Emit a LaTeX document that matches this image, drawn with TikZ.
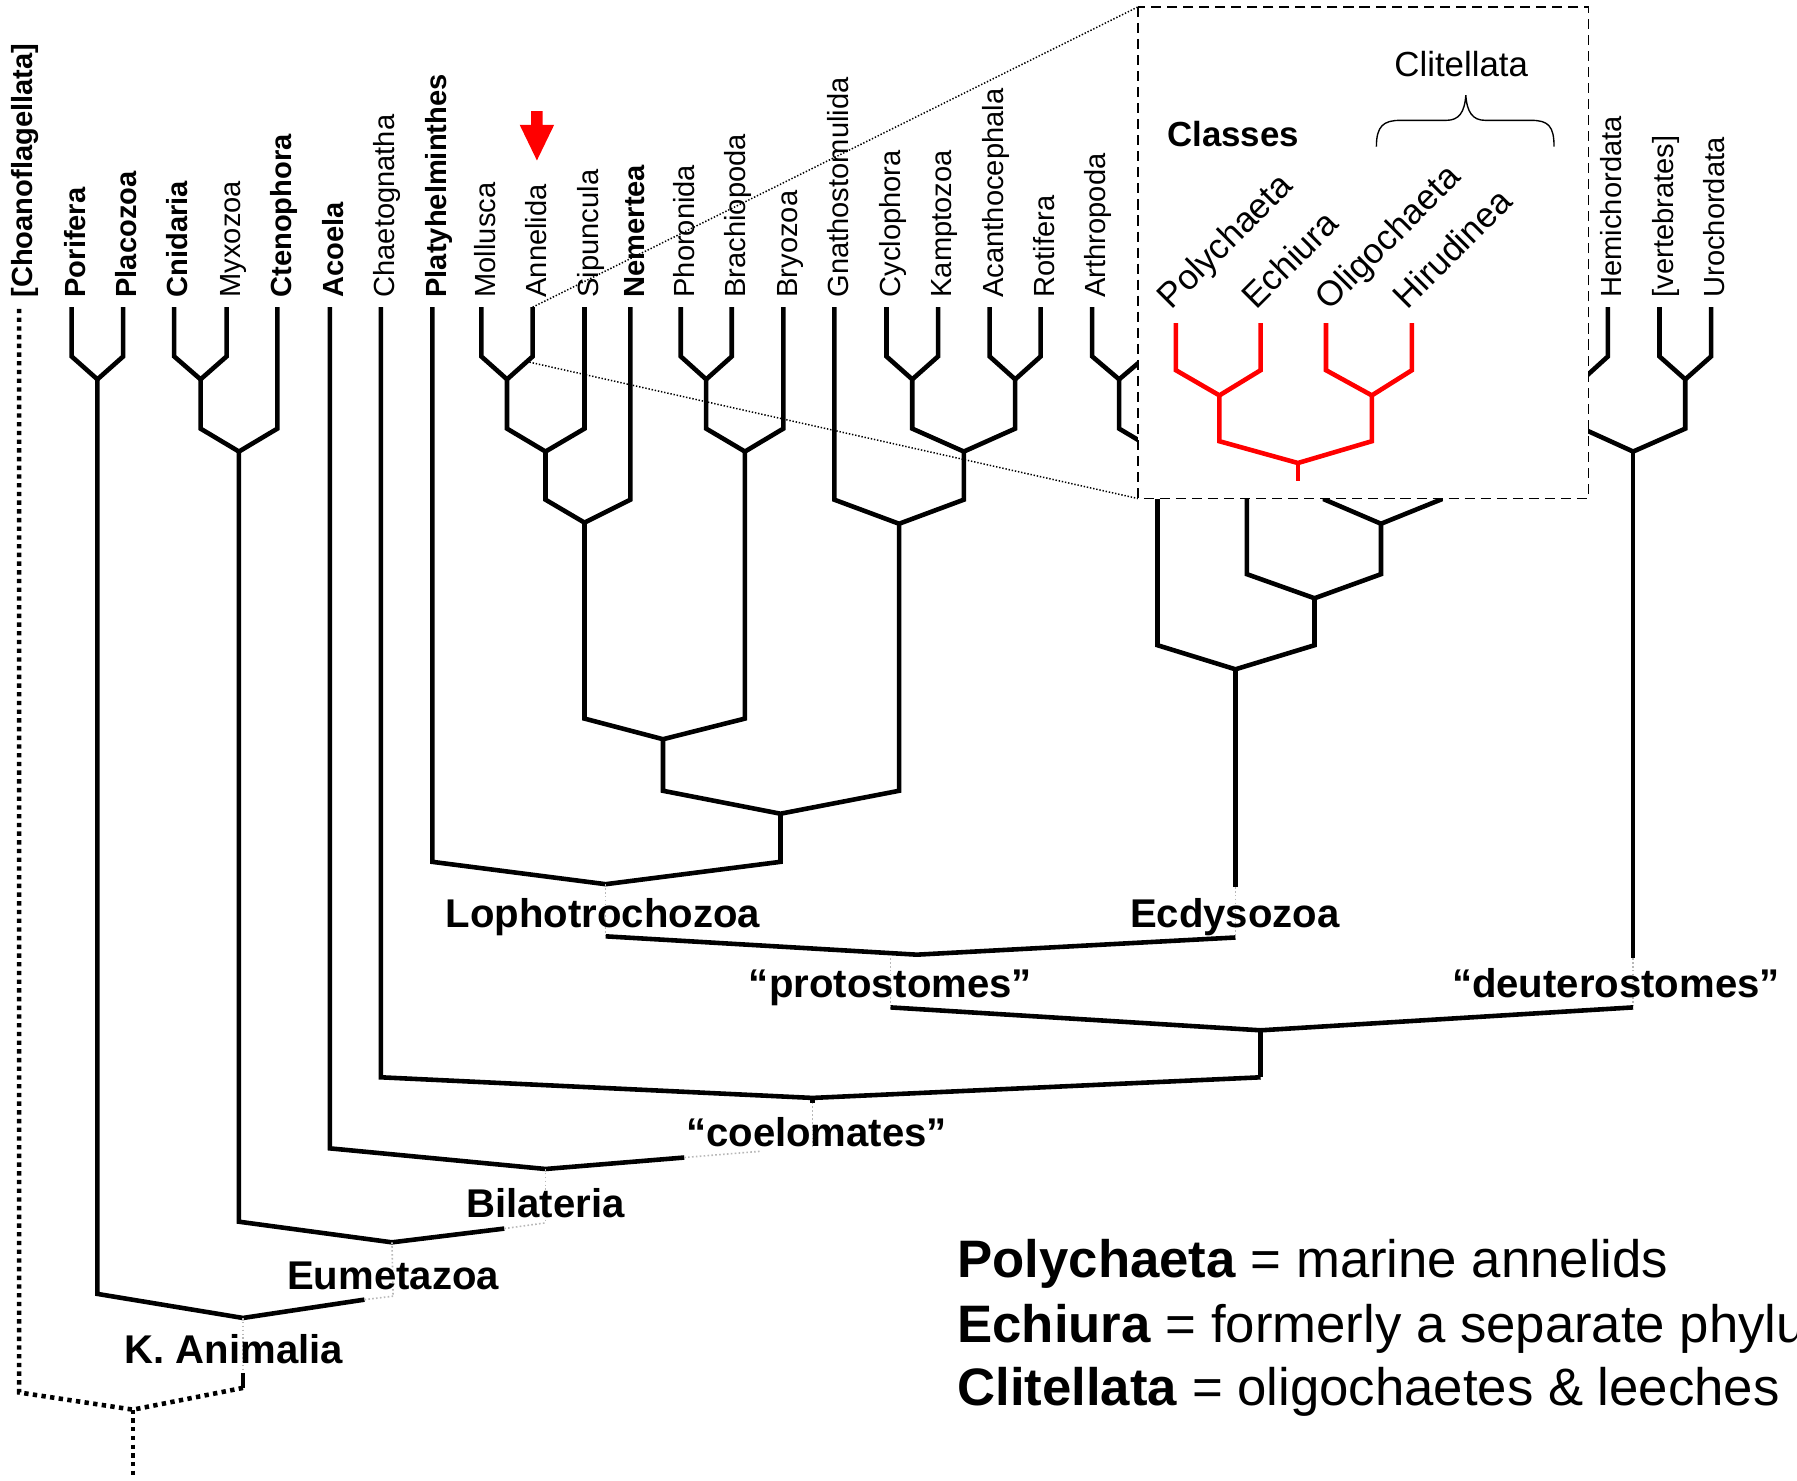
\documentclass[tikz,border=0pt]{standalone}
\usepackage{fontspec}
\setmainfont{Liberation Sans}
\begin{document}
\begin{tikzpicture}[x=0.5pt,y=-0.5pt,
  br/.style={line width=2pt},
  redbr/.style={line width=2pt,draw=red},
  faint/.style={line width=0.7pt,draw=black!28,densely dotted},
  rootdot/.style={line width=2pt,dash pattern=on 1.9pt off 1.9pt},
  guide/.style={line width=0.65pt,dash pattern=on 0.6pt off 0.8pt},
  inset/.style={fill=white,line width=0.65pt,dash pattern=on 4.4pt off 2.6pt},
  tax/.style={rotate=90,anchor=base west,inner sep=0pt,font=\fontsize{12.7pt}{15pt}\selectfont},
  btax/.style={tax,font=\fontsize{12.7pt}{15pt}\selectfont\bfseries},
  clade/.style={anchor=base,inner sep=0pt,font=\fontsize{17.5pt}{20pt}\selectfont\bfseries},
  cls/.style={rotate=45,anchor=base west,inner sep=0pt,font=\fontsize{15.3pt}{18pt}\selectfont},
  note/.style={anchor=base west,inner sep=0pt,font=\fontsize{23pt}{27pt}\selectfont}]

\useasboundingbox (0,0) rectangle (1568,1292);

% ---------- taxon labels ----------
\node[btax] (l-cho) at (28.7,260) {[Choanoflagellata]};
\node[btax] (l-por) at (74.5,260) {Porifera};
\node[btax] (l-pla) at (119.5,260) {Placozoa};
\node[btax] (l-cni) at (164,260) {Cnidaria};
\node[tax]  (l-myx) at (209.7,260) {Myxozoa};
\node[btax] (l-cte) at (254,260) {Ctenophora};
\node[btax] (l-aco) at (299.8,260) {Acoela};
\node[tax]  (l-cha) at (344.3,260) {Chaetognatha};
\node[btax] (l-pth) at (389.2,260) {Platyhelminthes};
\node[tax]  (l-mol) at (432,260) {Mollusca};
\node[tax]  (l-ann) at (476.8,260) {Annelida};
\node[tax]  (l-sip) at (522,260) {Sipuncula};
\node[btax] (l-nem) at (562,260) {Nemertea};
\node[tax]  (l-pho) at (606,260) {Phoronida};
\node[tax]  (l-bra) at (650.5,260) {Brachiopoda};
\node[tax]  (l-bry) at (695.5,260) {Bryozoa};
\node[tax]  (l-gna) at (740,260) {Gnathostomulida};
\node[tax]  (l-cyc) at (785.5,260) {Cyclophora};
\node[tax]  (l-kam) at (830.5,260) {Kamptozoa};
\node[tax]  (l-aca) at (875.5,260) {Acanthocephala};
\node[tax]  (l-rot) at (920,260) {Rotifera};
\node[tax]  (l-art) at (965,260) {Arthropoda};
\node[tax]  (l-hem) at (1415,260) {Hemichordata};
\node[tax]  (l-ver) at (1460,260) {[vertebrates]};
\node[tax]  (l-uro) at (1505,260) {Urochordata};

% ---------- coordinates ----------
\foreach \n/\x in {cho/16.7,por/62.5,pla/107.5,cni/152,myx/197.7,cte/242,aco/287.8,cha/332.3,pth/377.2,mol/420,ann/464.8,sip/510,nem/550,pho/594,bra/638.5,bry/683.5,gna/728,cyc/773.5,kam/818.5,aca/863.5,rot/908,art/953,hx/1000,hy/1043,he/1359,hem/1403,ver/1448,uro/1493}
  \coordinate (t-\n) at (\x,268);
\coordinate (y1) at (0,311);
\coordinate (y2) at (0,374);
\coordinate (y3) at (0,436);
\coordinate (y4) at (0,627);
\coordinate (y4b) at (0,501);
\coordinate (y5) at (0,690);
\coordinate (y5b) at (0,563);
\coordinate (y6) at (0,752);

\coordinate (j-pp) at (85,331);
\coordinate (j-cm) at (175,331);
\coordinate (j-ma) at (442.4,331);
\coordinate (j-pb) at (616.2,331);
\coordinate (j-ck) at (796,331);
\coordinate (j-ar) at (885.8,331);
\coordinate (j-ax) at (976.5,331);
\coordinate (j-eh) at (1381,331);
\coordinate (j-vu) at (1470.5,331);
\coordinate (j-cte) at (208.5,394);
\coordinate (j-sip) at (476,394);
\coordinate (j-bry) at (650,394);
\coordinate (j-rot) at (841,394);
\coordinate (j-axy) at (1010,394);
\coordinate (j-deu) at (1425,394);
\coordinate (j-nem) at (510,456);
\coordinate (j-gna) at (784.5,457);
\coordinate (j-h3) at (1205,457);
\coordinate (j-lo1) at (578.5,645);
\coordinate (j-h4) at (1147,522);
\coordinate (j-lo2) at (681,710);
\coordinate (j-ecd) at (1078,584);
\coordinate (j-lop) at (528.5,771.5);
\coordinate (j-pro) at (800,833);
\coordinate (j-pd) at (1100,899);
\coordinate (j-coe) at (709,958);
\coordinate (j-bil) at (476,1020);
\coordinate (j-eum) at (342,1084);
\coordinate (j-ani) at (212,1150);
\coordinate (j-root) at (116,1230);
\coordinate (t-h0) at (1088,420);
\coordinate (t-h1) at (1156,420);
\coordinate (t-h2) at (1257,420);

% ---------- tree ----------
\foreach \a/\b/\j in {por/pla/pp,cni/myx/cm,mol/ann/ma,pho/bra/pb,cyc/kam/ck,aca/rot/ar,art/hx/ax,he/hem/eh,ver/uro/vu}
  \draw[br] (t-\a) -- (t-\a |- y1) -- (j-\j) -- (t-\b |- y1) -- (t-\b);

\draw[br] (j-cm) -- (j-cm |- y2) -- (j-cte) -- (t-cte |- y2) -- (t-cte);
\draw[br] (j-ma) -- (j-ma |- y2) -- (j-sip) -- (t-sip |- y2) -- (t-sip);
\draw[br] (j-pb) -- (j-pb |- y2) -- (j-bry) -- (t-bry |- y2) -- (t-bry);
\draw[br] (j-ck) -- (j-ck |- y2) -- (j-rot) -- (j-ar |- y2) -- (j-ar);
\draw[br] (j-ax) -- (j-ax |- y2) -- (j-axy) -- (t-hy |- y2) -- (t-hy);
\draw[br] (j-eh) -- (j-eh |- y2) -- (j-deu) -- (j-vu |- y2) -- (j-vu);

\draw[br] (j-sip) -- (j-sip |- y3) -- (j-nem) -- (t-nem |- y3) -- (t-nem);
\draw[br] (t-gna) -- (t-gna |- y3) -- (j-gna) -- (j-rot |- y3) -- (j-rot);
\draw[br] (t-h1) -- (t-h1 |- y3) -- (j-h3) -- (t-h2 |- y3) -- (t-h2);

\draw[br] (j-nem) -- (j-nem |- y4) -- (j-lo1) -- (j-bry |- y4) -- (j-bry);
\draw[br] (t-h0) -- (t-h0 |- y4b) -- (j-h4) -- (j-h3 |- y4b) -- (j-h3);

\draw[br] (j-lo1) -- (j-lo1 |- y5) -- (j-lo2) -- (j-gna |- y5) -- (j-gna);
\draw[br] (j-axy) -- (j-axy |- y5b) -- (j-ecd) -- (j-h4 |- y5b) -- (j-h4);

\draw[br] (t-pth) -- (t-pth |- y6) -- (j-lop) -- (j-lo2 |- y6) -- (j-lo2);

\coordinate (lop-b) at (528.5,817);
\coordinate (ecd-g) at (1078,774);
\coordinate (ecd-b) at (1078,818);
\draw[faint] (j-lop) -- (lop-b);
\draw[br] (lop-b) -- (j-pro) -- (ecd-b);
\draw[br] (j-ecd) -- (ecd-g);
\draw[faint] (ecd-g) -- (ecd-b);
\coordinate (pro-t) at (777,836);
\coordinate (pro-b) at (777,879);
\draw[faint] (pro-t) -- (pro-b);
\coordinate (deu-g) at (1425,836);
\coordinate (deu-b) at (1425,879);
\draw[br] (j-deu) -- (deu-g);
\draw[faint] (deu-g) -- (deu-b);
\draw[br] (pro-b) -- (j-pd) -- (deu-b);
\coordinate (pd-b) at (1100,940);
\draw[br] (j-pd) -- (pd-b);
\draw[br] (t-cha) -- (t-cha |- pd-b) -- (j-coe) -- (pd-b);
\coordinate (coe-g) at (709,962);
\coordinate (coe-b) at (709,1001);
\draw[br] (j-coe) -- (coe-g);
\draw[faint] (coe-g) -- (coe-b);
\coordinate (bil-r) at (597,1010);
\coordinate (bil-re) at (663,1004.6);
\coordinate (aco-b) at (287.8,1002);
\draw[br] (t-aco) -- (aco-b) -- (j-bil) -- (bil-r);
\draw[faint] (bil-r) -- (bil-re);
\coordinate (bil-b) at (476,1067);
\draw[faint] (j-bil) -- (bil-b);
\coordinate (cte-b) at (208.5,1066);
\coordinate (eum-r) at (440,1072);
\draw[br] (j-cte) -- (cte-b) -- (j-eum) -- (eum-r);
\draw[faint] (eum-r) -- (bil-b);
\coordinate (eum-b) at (343,1131);
\draw[faint] (j-eum) -- (eum-b);
\coordinate (pp-b) at (85,1129);
\coordinate (ani-r) at (318,1134);
\draw[br] (j-pp) -- (pp-b) -- (j-ani) -- (ani-r);
\draw[faint] (ani-r) -- (eum-b);
\coordinate (ani-g) at (212,1198);
\coordinate (ani-b) at (212,1211);
\draw[faint] (j-ani) -- (ani-g);
\draw[br] (ani-g) -- (ani-b);
\coordinate (cho-b) at (16.7,1215);
\coordinate (root-b) at (116,1290);
\draw[rootdot] (ani-b) -- (j-root) -- (cho-b) -- (t-cho);
\draw[rootdot] (j-root) -- (root-b);

% ---------- clade labels ----------
\node[clade] (n-ani) at (204,1190) {K. Animalia};
\node[clade] (n-eum) at (343,1125) {Eumetazoa};
\node[clade] (n-bil) at (476,1062) {Bilateria};
\node[clade] (n-coe) at (712.5,1000) {“coelomates”};
\node[clade] (n-lop) at (526,809) {Lophotrochozoa};
\node[clade] (n-ecd) at (1077.5,809) {Ecdysozoa};
\node[clade] (n-pro) at (777,870) {“protostomes”};
\node[clade] (n-deu) at (1410,870) {“deuterostomes”};

% ---------- zoom guides and inset ----------
\coordinate (g-low) at (462,316);
\coordinate (box-nw) at (993,6);
\coordinate (box-sw) at (993,435);
\coordinate (box-se) at (1386,435);
\draw[guide] (t-ann) -- (box-nw);
\draw[guide] (g-low) -- (box-sw);
\draw[inset] (box-nw) rectangle (box-se);

\foreach \n/\x in {pol/1026,ech/1100,oli/1157,hir/1232}
  \coordinate (r-\n) at (\x,282);
\coordinate (ry1) at (0,323);
\coordinate (ry2) at (0,385);
\coordinate (rj1) at (1064,345);
\coordinate (rj2) at (1197,345);
\coordinate (rj3) at (1132.5,404);
\coordinate (rj-b) at (1132.5,420);
\draw[redbr] (r-pol) -- (r-pol |- ry1) -- (rj1) -- (r-ech |- ry1) -- (r-ech);
\draw[redbr] (r-oli) -- (r-oli |- ry1) -- (rj2) -- (r-hir |- ry1) -- (r-hir);
\draw[redbr] (rj1) -- (rj1 |- ry2) -- (rj3) -- (rj2 |- ry2) -- (rj2);
\draw[redbr] (rj3) -- (rj-b);

\node[cls] (i-pol) at (1022,271) {Polychaeta};
\node[cls] (i-ech) at (1096,271) {Echiura};
\node[cls] (i-oli) at (1160,272) {Oligochaeta};
\node[cls] (i-hir) at (1228,271) {Hirudinea};
\node[anchor=base,inner sep=0pt,font=\fontsize{15.2pt}{18pt}\selectfont\bfseries] (i-cls) at (1076,128) {Classes};
\node[anchor=base,inner sep=0pt,font=\fontsize{15.2pt}{18pt}\selectfont] (i-cli) at (1275,67) {Clitellata};
\draw[line width=0.6pt] (1201,128) .. controls (1201,110) and (1207,105) .. (1222,105) -- (1262,105)
  .. controls (1273,105) and (1278,98) .. (1279,83)
  .. controls (1280,98) and (1285,105) .. (1296,105) -- (1336,105)
  .. controls (1351,105) and (1356,110) .. (1356,128);

% ---------- red arrow ----------
\fill[red] (463.5,97) -- (473.5,97) -- (473.5,109) -- (483.5,109) -- (468.5,140) -- (453.5,109) -- (463.5,109) -- cycle;

% ---------- notes ----------
\node[note] (n1) at (835,1115) {\textbf{Polychaeta} = marine annelids};
\node[note] (n2) at (835,1171) {\textbf{Echiura} = formerly a separate phylum};
\node[note] (n3) at (835,1226) {\textbf{Clitellata} = oligochaetes \& leeches};
\end{tikzpicture}
\end{document}
